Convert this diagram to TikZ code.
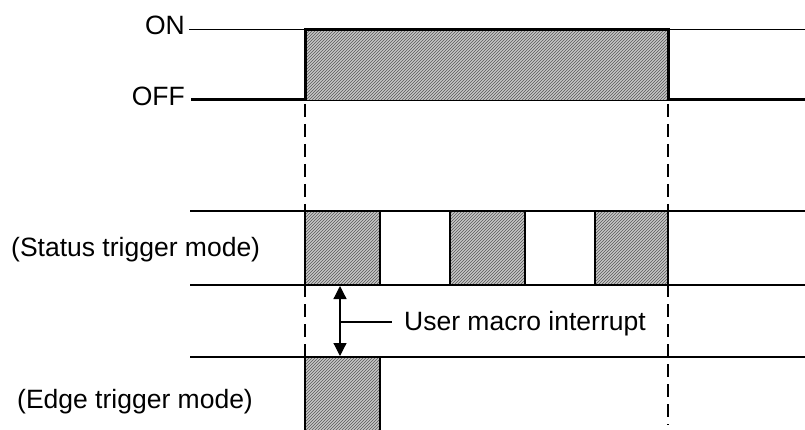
\documentclass[tikz,border=0pt]{standalone}
\usepackage{fontspec}
\setmainfont{Liberation Sans}
\usetikzlibrary{patterns,arrows.meta}

\begin{document}
\begin{tikzpicture}[x=1pt, y=-1pt,
  lbl/.style={font=\fontsize{26.5}{30}\selectfont, inner sep=0pt},
  pulse/.style={preaction={fill=gray!45}, pattern=north east lines,
    pattern color=black!65, draw=black, line width=1.2pt},
  level/.style={line width=1.5pt},
  edge/.style={line width=3pt, line cap=rect},
  guide/.style={line width=1.6pt, dash pattern=on 13pt off 7pt},
]
  \useasboundingbox (0,0) rectangle (805,430);

  % guide lines at the rise and the fall
  \coordinate (rise) at (305,104);
  \coordinate (fall) at (668,104);
  \draw[guide] (rise) -- (305,430);
  \draw[guide] (fall) -- (668,425);

  % input signal
  \node[lbl, anchor=east] (on) at (185,25) {ON};
  \node[lbl, anchor=east] (off) at (185,96) {OFF};
  \fill[pulse, draw=none] (305,30) rectangle (668,100);
  \draw[line width=0.8pt] (305,100) -- (668,100);
  \draw[line width=1pt] ([xshift=4pt]on.east |- 0,30) -- (305,30);
  \draw[line width=1pt] (668,30) -- (805,30);
  \draw[edge] ([xshift=7pt]off.east |- 0,100) -- (305,100) -- (305,30)
    -- (668,30) -- (668,100) -- (805,100);

  % status trigger mode
  \draw[level] (190,211) -- (805,211);
  \draw[level] (190,285) -- (805,285);
  \foreach \xa/\xb in {305/380, 450/525, 595/668}
    \draw[pulse] (\xa,211) rectangle (\xb,285);
  \node[lbl, anchor=west] (status) at (11,250) {(Status trigger mode)};

  % edge trigger mode
  \draw[level] (190,357) -- (805,357);
  \fill[pulse, draw=none] (305,357) rectangle (380,432);
  \draw[line width=1.2pt] (305,432) -- (305,357) -- (380,357) -- (380,432);
  \node[lbl, anchor=west] (edgemode) at (17,402) {(Edge trigger mode)};

  % interrupt delay
  \coordinate (arrtop) at (340,286);
  \coordinate (arrbot) at (340,356);
  \coordinate (arrmid) at (340,322);
  \draw[{Triangle[length=13pt,width=13pt]}-{Triangle[length=13pt,width=13pt]},
    line width=1.2pt] (arrtop) -- (arrbot);
  \node[lbl, anchor=west] (user) at (404,324) {User macro interrupt};
  \draw[line width=1.2pt] (arrmid) -- ([xshift=-12pt]user.west |- arrmid);
\end{tikzpicture}
\end{document}
